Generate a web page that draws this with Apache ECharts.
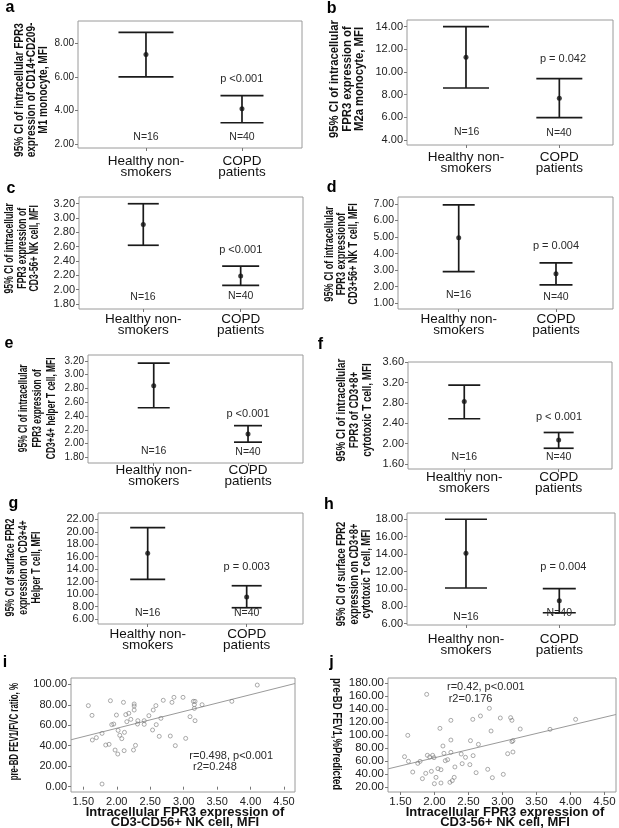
<!DOCTYPE html>
<html><head><meta charset="utf-8">
<script src="https://cdn.jsdelivr.net/npm/echarts@6/dist/echarts.min.js"></script>
<style>html,body{margin:0;padding:0;background:#fff}#c{width:619px;height:828px}</style>
</head><body><div id="c"></div>
<script>
// ---------- data ----------
const categories = ['Healthy non-\nsmokers', 'COPD\npatients'];
const groupN = ['N=16', 'N=40'];

const aLower = [6.01, 3.27], aMean = [7.36, 4.11], aUpper = [8.68, 4.89];
const bLower = [8.59, 5.97], bMean = [11.30, 7.68], bUpper = [14.00, 9.41];
const cLower = [2.62, 2.06], cMean = [2.91, 2.19], cUpper = [3.20, 2.33];
const dLower = [2.91, 2.11], dMean = [4.96, 2.79], dUpper = [6.94, 3.44];
const eLower = [2.52, 2.02], eMean = [2.84, 2.14], eUpper = [3.17, 2.26];
const fLower = [2.49, 1.91], fMean = [2.83, 2.07], fUpper = [3.15, 2.22];
const gLower = [12.37, 7.81], gMean = [16.54, 9.53], gUpper = [20.65, 11.34];
const hLower = [10.10, 7.26], hMean = [14.09, 8.64], hUpper = [18.00, 10.02];

const aTicks = [2, 4, 6, 8];
const bTicks = [4, 6, 8, 10, 12, 14];
const cTicks = [1.8, 2.0, 2.2, 2.4, 2.6, 2.8, 3.0, 3.2];
const dTicks = [1, 2, 3, 4, 5, 6, 7];
const eTicks = [1.8, 2.0, 2.2, 2.4, 2.6, 2.8, 3.0, 3.2];
const fTicks = [1.6, 2.0, 2.4, 2.8, 3.2, 3.6];
const gTicks = [6, 8, 10, 12, 14, 16, 18, 20, 22];
const hTicks = [6, 8, 10, 12, 14, 16, 18];
const ijXTicks = [1.5, 2.0, 2.5, 3.0, 3.5, 4.0, 4.5];
const iYTicks = [0, 20, 40, 60, 80, 100];
const jYTicks = [20, 40, 60, 80, 100, 120, 140, 160, 180];

const pTexts = ['p <0.001', 'p = 0.042', 'p <0.001', 'p = 0.004', 'p <0.001', 'p < 0.001', 'p = 0.003', 'p = 0.004'];

const iX = [1.575,1.63,1.635,1.695,1.78,1.835,1.885,1.78,1.905,1.995,1.925,1.955,2.02,2.045,2.075,1.975,2.015,2.1,2.115,2.11,2.15,2.18,2.21,2.135,2.25,2.28,2.26,2.26,2.26,2.315,2.31,2.41,2.41,2.48,2.545,2.585,2.535,2.59,2.635,2.66,2.695,2.825,2.855,2.8,2.875,2.99,3.03,3.095,3.145,3.17,3.16,3.16,3.17,3.275,3.72,4.1];
const iY = [79.2,69.7,45.6,47.9,52.1,40.7,41.4,2.6,84.0,70.0,60.6,61.2,55.0,50.2,46.9,35.8,31.9,82.4,53.1,35.2,63.5,71.7,65.8,70.4,35.8,40.4,80.8,78.8,74.9,64.5,61.2,64.5,60.9,69.4,74.9,79.2,55.4,60.6,49.2,66.8,84.4,82.4,87.3,49.5,40.1,87.3,47.2,68.4,83.4,83.4,80.1,76.5,64.5,80.1,83.4,99.3];
const iFit = [[1.316, 45.85], [4.664, 100.8]];

const jX = [1.559,1.617,1.607,1.68,1.754,1.788,1.822,1.871,1.885,1.895,1.929,1.954,1.973,1.993,1.998,2.022,2.051,2.095,2.095,2.08,2.124,2.139,2.159,2.193,2.227,2.261,2.241,2.241,2.241,2.29,2.3,2.393,2.407,2.456,2.52,2.529,2.563,2.568,2.612,2.646,2.676,2.783,2.807,2.832,2.851,2.968,3.012,3.076,3.12,3.139,3.139,3.154,3.154,3.261,3.7,4.076];
const jY = [66.8,59.6,99.7,43.1,56.5,59.6,32.9,41.1,163.0,68.9,66.3,44.2,68.9,65.3,25.1,34.9,48.3,46.7,26.2,110.5,83.3,72.0,60.6,62.2,27.2,29.8,122.9,92.5,73.5,34.9,50.9,70.9,56.0,65.8,54.5,91.5,124.4,68.4,42.1,85.8,129.6,47.3,141.4,106.4,34.4,126.5,39.5,71.4,127.0,122.9,90.0,91.5,74.0,109.5,109.0,124.4];
const jFit = [[1.316, 48.0], [4.67, 131.9]];

// ---------- layout / style ----------
const FONT = "'Liberation Sans', Arial, sans-serif";
const ciPanels = [
  {L:'a', grid:{left:78,top:21,width:224,height:127}, x:[0.292,2.625], y:[1.761,9.356], lo:aLower, me:aMean, up:aUpper, ticks:aTicks, tf:10, cm:7.5, caps:[55,43], pPos:[241.7,79.3], nPos:[[146,136.7],[242,136.7]],
   title:'95% CI of intracellular FPR3\nexpression of CD14+CD209-\nM1 monocyte, MFI', tPos:[31.5,90], tLH:12, tS:0.84, lp:[10,7.7]},
  {L:'b', grid:{left:407,top:20,width:206,height:125}, x:[0.368,2.575], y:[3.56,14.59], lo:bLower, me:bMean, up:bUpper, ticks:bTicks, tf:11, cm:7.2, caps:[46,46], pPos:[563,58.7], nPos:[[466.7,131.7],[559,132.7]],
   title:'95% CI of intracellular\nFPR3 expression of\nM2a monocyte, MFI', tPos:[347.3,79], tLH:12.5, tS:0.94, lp:[331.7,8.3]},
  {L:'c', grid:{left:79,top:197,width:224,height:112}, x:[0.340,2.640], y:[1.730,3.294], lo:cLower, me:cMean, up:cUpper, ticks:cTicks, tf:11, cm:4.8, caps:[31,37], pPos:[240.7,250], nPos:[[143,296.7],[240.7,296]],
   title:'95% CI of intracellular\nFPR3 expression of\nCD3-56+ NK cell, MFI', tPos:[22.6,248.3], tLH:12.5, tS:0.72, lp:[11,188.3]},
  {L:'d', grid:{left:398,top:197,width:215,height:112}, x:[0.376,2.586], y:[0.656,7.42], lo:dLower, me:dMean, up:dUpper, ticks:dTicks, tf:10.5, cm:4.8, caps:[32,33], pPos:[556,246], nPos:[[458.7,295],[556,296.7]],
   title:'95% CI of intracellular\nFPR3 expressionof\nCD3+56+ NK T cell, MFI', tPos:[341.7,254], tLH:11.7, tS:0.76, lp:[331.7,187.3]},
  {L:'e', grid:{left:88,top:355,width:215,height:108}, x:[0.303,2.583], y:[1.717,3.287], lo:eLower, me:eMean, up:eUpper, ticks:eTicks, tf:10, cm:1.8, caps:[32,28], pPos:[248,414], nPos:[[153.7,451],[248,451.7]],
   title:'95% CI of intracellular\nFPR3 expression of\nCD3+4+ helper T cell, MFI', tPos:[37.4,408.3], tLH:14, tS:0.70, lp:[9,343.3]},
  {L:'f', grid:{left:408,top:362,width:204,height:107}, x:[0.404,2.565], y:[1.502,3.606], lo:fLower, me:fMean, up:fUpper, ticks:fTicks, tf:11, cm:3.2, caps:[32,30], pPos:[559,416.7], nPos:[[464.3,457],[558.7,457]],
   title:'95% CI of intracellular\nFPR3 of CD3+8+\ncytotoxic T cell, MFI', tPos:[354.7,410], tLH:12.8, tS:0.82, lp:[320.5,344.3]},
  {L:'g', grid:{left:98,top:513,width:205,height:111}, x:[0.498,2.569], y:[5.20,23.01], lo:gLower, me:gMean, up:gUpper, ticks:gTicks, tf:11, cm:4.8, caps:[35,30], pPos:[246.7,566.7], nPos:[[147.7,613.3],[246.7,613.3]],
   title:'95% CI of surface FPR2\nexpression on CD3+4+\nHelper T cell, MFI', tPos:[23.3,567.5], tLH:13, tS:0.73, lp:[13.3,503.3]},
  {L:'h', grid:{left:407,top:513,width:208,height:112}, x:[0.368,2.597], y:[5.85,18.72], lo:hLower, me:hMean, up:hUpper, ticks:hTicks, tf:11, cm:8.5, caps:[42,33], pPos:[563.3,566.7], nPos:[[466,617.3],[559.3,613.3]],
   title:'95% CI of surface FPR2\nexpression on CD3+8+\ncytotoxic T cell, MFI', tPos:[354.5,574], tLH:12.5, tS:0.78, lp:[329,504.3]}
];
const scPanels = [
  {L:'i', grid:{left:71,top:678,width:224,height:114}, x:[1.316,4.664], y:[-5.2,106.2], xs:iX, ys:iY, fit:iFit, yt:iYTicks, tf:11,
   title:'pre-BD FEV1/FVC ratio, %', tPos:[15,731.7], tS:0.66, rot:Math.PI/2, xt:'Intracellular FPR3 expression of\nCD3-CD56+ NK cell, MFI', xtPos:[185,817.8],
   r:['r=0.498, p<0.001', ' r2=0.248'], rPos:[[189.3,756],[190,766.5]], lp:[5,663]},
  {L:'j', grid:{left:388,top:678,width:228,height:114}, x:[1.316,4.67], y:[12.3,188.2], xs:jX, ys:jY, fit:jFit, yt:jYTicks, tf:11.5,
   title:'pre-BD FEV1,%Predicted', tPos:[336.7,734], tS:0.79, rot:-Math.PI/2, xt:'Intracellular FPR3 expression of\nCD3-56+ NK cell, MFI', xtPos:[505,817.8],
   r:['r=0.42, p<0.001', 'r2=0.176'], rPos:[[447,686.7],[448.7,698.7]], lp:[331.5,663]}
];

const grids = [], xAxes = [], yAxes = [], series = [], graphics = [];
const boxStyle = {show:true, borderColor:'#9a9a9a', borderWidth:1, backgroundColor:'#fff'};
const tickLine = {color:'#777', width:1};

function errRenderer(caps){
  return function(params, api){
    const x = api.value(0);
    const pLo = api.coord([x, api.value(1)]);
    const pHi = api.coord([x, api.value(2)]);
    const h = caps[params.dataIndex] / 2;
    const st = {stroke:'#1a1a1a', lineWidth:1.7};
    return {type:'group', children:[
      {type:'line', shape:{x1:pLo[0], y1:pLo[1], x2:pHi[0], y2:pHi[1]}, style:st},
      {type:'line', shape:{x1:pHi[0]-h, y1:pHi[1], x2:pHi[0]+h, y2:pHi[1]}, style:st},
      {type:'line', shape:{x1:pLo[0]-h, y1:pLo[1], x2:pLo[0]+h, y2:pLo[1]}, style:st}
    ]};
  };
}
function txt(x, y, text, o){
  o = o || {};
  return {type:'text', x:x, y:y, rotation:o.rot||0, scaleX:o.sx||1, scaleY:o.sy||1, z:100,
    style:{text:text, fontSize:o.fs||11, fontFamily:FONT, fontWeight:o.fw||'normal', fill:o.fill||'#2a2a2a',
      align:o.align||'center', verticalAlign:'middle', lineHeight:o.lh||undefined}};
}

ciPanels.forEach(function(p, k){
  grids.push(Object.assign({}, p.grid, boxStyle));
  xAxes.push({gridIndex:k, type:'value', min:p.x[0], max:p.x[1], axisLine:{show:false}, splitLine:{show:false},
    axisTick:{show:true, customValues:[1,2], length:3, lineStyle:tickLine},
    axisLabel:{customValues:[1,2], formatter:function(v){return categories[Math.round(v)-1];}, fontSize:13.5, lineHeight:11, fontFamily:FONT, color:'#111', margin:p.cm}});
  yAxes.push({gridIndex:k, type:'value', min:p.y[0], max:p.y[1], axisLine:{show:false}, splitLine:{show:false},
    axisTick:{show:true, customValues:p.ticks, length:3, lineStyle:tickLine},
    axisLabel:{customValues:p.ticks, formatter:function(v){return v.toFixed(2);}, fontSize:p.tf, fontFamily:FONT, color:'#222', margin:4}});
  series.push({type:'custom', xAxisIndex:k, yAxisIndex:k, renderItem:errRenderer(p.caps), encode:{x:0, y:[1,2]},
    data:p.lo.map(function(v, i){return [i+1, v, p.up[i]];}), silent:true, z:5});
  series.push({type:'scatter', xAxisIndex:k, yAxisIndex:k, symbol:'circle', symbolSize:5, itemStyle:{color:'#111'},
    data:p.me.map(function(v, i){return [i+1, v];}), silent:true, z:6});
  graphics.push(txt(p.pPos[0], p.pPos[1], pTexts[k], {fs:11}));
  groupN.forEach(function(n, i){ graphics.push(txt(p.nPos[i][0], p.nPos[i][1], n, {fs:10.5})); });
  graphics.push(txt(p.tPos[0], p.tPos[1], p.title, {fs:12, fw:'bold', rot:Math.PI/2, sx:p.tS, lh:p.tLH, fill:'#111'}));
  graphics.push(txt(p.lp[0], p.lp[1], p.L, {fs:16, fw:'bold', fill:'#000'}));
});

scPanels.forEach(function(p, m){
  const k = ciPanels.length + m;
  grids.push(Object.assign({}, p.grid, boxStyle));
  xAxes.push({gridIndex:k, type:'value', min:p.x[0], max:p.x[1], axisLine:{show:false}, splitLine:{show:false},
    axisTick:{show:true, customValues:ijXTicks, length:3, lineStyle:tickLine},
    axisLabel:{customValues:ijXTicks, formatter:function(v){return v.toFixed(2);}, fontSize:p.tf, fontFamily:FONT, color:'#222', margin:4}});
  yAxes.push({gridIndex:k, type:'value', min:p.y[0], max:p.y[1], axisLine:{show:false}, splitLine:{show:false},
    axisTick:{show:true, customValues:p.yt, length:3, lineStyle:tickLine},
    axisLabel:{customValues:p.yt, formatter:function(v){return v.toFixed(2);}, fontSize:p.tf, fontFamily:FONT, color:'#222', margin:4}});
  series.push({type:'scatter', xAxisIndex:k, yAxisIndex:k, symbol:'circle', symbolSize:4,
    itemStyle:{color:'rgba(255,255,255,0)', borderColor:'#7a7a7a', borderWidth:0.8},
    data:p.xs.map(function(x, i){return [x, p.ys[i]];}), silent:true, z:6});
  series.push({type:'line', xAxisIndex:k, yAxisIndex:k, data:p.fit, symbol:'none', lineStyle:{color:'#9a9a9a', width:1}, silent:true, z:5});
  graphics.push(txt(p.tPos[0], p.tPos[1], p.title, {fs:12, fw:'bold', rot:p.rot, sx:p.tS, fill:'#111'}));
  graphics.push(txt(p.xtPos[0], p.xtPos[1], p.xt, {fs:13, fw:'bold', lh:10.2, sy:0.92, fill:'#111'}));
  p.r.forEach(function(t, i){ graphics.push(txt(p.rPos[i][0], p.rPos[i][1], t, {fs:11, align:'left'})); });
  graphics.push(txt(p.lp[0], p.lp[1], p.L, {fs:16, fw:'bold', fill:'#000'}));
});

const chart = echarts.init(document.getElementById('c'), null, {renderer:'canvas'});
chart.setOption({
  animation:false, backgroundColor:'#fff',
  grid:grids, xAxis:xAxes, yAxis:yAxes, series:series, graphic:graphics
});
</script></body></html>
